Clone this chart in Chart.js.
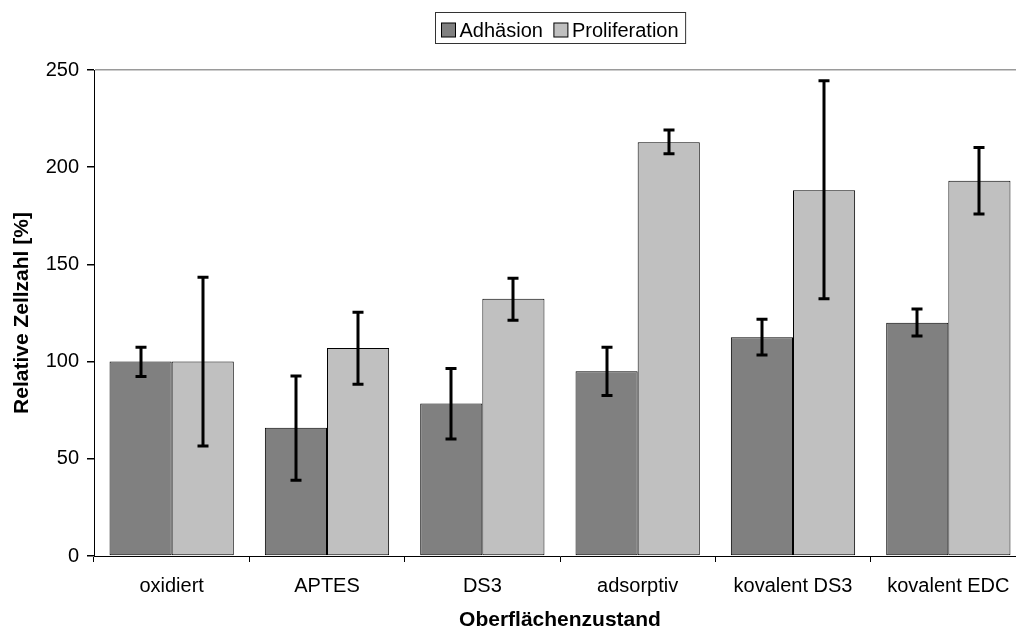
<!DOCTYPE html>
<html>
<head>
<meta charset="utf-8">
<script src="https://cdn.jsdelivr.net/npm/chart.js@4.4.0/dist/chart.umd.min.js"></script>
<style>
  html, body { margin: 0; padding: 0; background: #fff; overflow: hidden; width: 1016px; height: 635px; }
  canvas { display: block; }
</style>
</head>
<body>
<canvas id="c" width="1040" height="635"></canvas>
<script>
// Zellzahl relativ zur oxidierten Oberfläche (Mittelwert und Fehlergrenzen)
const categories = ['oxidiert', 'APTES', 'DS3', 'adsorptiv', 'kovalent DS3', 'kovalent EDC'];
const adhaesion      = [100, 66, 78.4, 95, 112.5, 120];
const adhaesionLow   = [92.3, 39, 60.2, 82.5, 103.4, 113.2];
const adhaesionHigh  = [107.4, 92.6, 96.4, 107.4, 121.8, 127.1];
const proliferation     = [100, 107, 132.3, 212.8, 188.2, 193];
const proliferationLow  = [56.6, 88.4, 121.3, 206.9, 132.3, 175.9];
const proliferationHigh = [143.4, 125.4, 142.9, 219.1, 244.5, 210.1];
const yTicks = [0, 50, 100, 150, 200, 250];

const FONT = "'Liberation Sans', Arial, sans-serif";

// Fehlerbalken mit Querstrichen
const errorBars = {
  id: 'errorBars',
  afterDatasetsDraw(chart) {
    const ctx = chart.ctx;
    const y = chart.scales.y;
    ctx.save();
    ctx.strokeStyle = '#000';
    ctx.lineWidth = 3;
    chart.data.datasets.forEach((ds, di) => {
      const meta = chart.getDatasetMeta(di);
      meta.data.forEach((bar, i) => {
        const x = Math.round(bar.x);
        const top = y.getPixelForValue(ds.errHigh[i]);
        const bot = y.getPixelForValue(ds.errLow[i]);
        ctx.beginPath();
        ctx.moveTo(x, top); ctx.lineTo(x, bot);
        ctx.moveTo(x - 5.5, top); ctx.lineTo(x + 5.5, top);
        ctx.moveTo(x - 5.5, bot); ctx.lineTo(x + 5.5, bot);
        ctx.stroke();
      });
    });
    ctx.restore();
  }
};

// Legende mit Rahmen, über der Zeichenfläche zentriert
const boxLegend = {
  id: 'boxLegend',
  afterDraw(chart) {
    const ctx = chart.ctx;
    const area = chart.chartArea;
    ctx.save();
    ctx.font = '20px ' + FONT;
    const padL = 6, padR = 7, mark = 15, gap = 3, itemGap = 11;
    const items = chart.data.datasets.map(d => ({ label: d.label, color: d.backgroundColor, w: ctx.measureText(d.label).width }));
    let width = padL + padR;
    items.forEach((it, k) => { width += mark + gap + it.w + (k < items.length - 1 ? itemGap : 0); });
    const cx = (area.left + area.right) / 2;
    const left = Math.round(cx - width / 2) + 0.5;
    const top = 12.5, height = 31;
    ctx.strokeStyle = '#333';
    ctx.lineWidth = 1;
    ctx.strokeRect(left, top, width, height);
    let x = left + padL;
    ctx.textBaseline = 'alphabetic';
    ctx.textAlign = 'left';
    items.forEach(it => {
      ctx.fillStyle = it.color;
      ctx.fillRect(x, 23, mark - 1, mark - 1);
      ctx.strokeStyle = '#000';
      ctx.strokeRect(x, 23, mark - 1, mark - 1);
      x += mark + gap;
      ctx.fillStyle = '#000';
      ctx.fillText(it.label, x, 37);
      x += it.w + itemGap;
    });
    ctx.restore();
  }
};

new Chart(document.getElementById('c'), {
  type: 'bar',
  data: {
    labels: categories,
    datasets: [
      { label: 'Adhäsion', data: adhaesion, errLow: adhaesionLow, errHigh: adhaesionHigh,
        backgroundColor: '#808080', borderColor: '#000', borderWidth: 1, borderSkipped: false },
      { label: 'Proliferation', data: proliferation, errLow: proliferationLow, errHigh: proliferationHigh,
        backgroundColor: '#c0c0c0', borderColor: '#000', borderWidth: 1, borderSkipped: false }
    ]
  },
  options: {
    responsive: false,
    animation: false,
    devicePixelRatio: 1,
    layout: { padding: { top: 70, right: 14, left: 0, bottom: 0 } },
    datasets: { bar: { categoryPercentage: 0.8, barPercentage: 1.0 } },
    plugins: {
      legend: { display: false },
      tooltip: { enabled: false }
    },
    scales: {
      x: {
        offset: true,
        grid: { offset: true, drawOnChartArea: false, color: '#000', tickLength: 6 },
        border: { color: '#000', width: 1 },
        ticks: { color: '#000', font: { family: FONT, size: 20 }, padding: 12, maxRotation: 0, autoSkip: false },
        title: { display: true, text: 'Oberflächenzustand', color: '#000',
                 font: { family: FONT, size: 21, weight: 'bold' }, padding: { top: 0, bottom: 2 } },
        afterFit(scale) { scale.height = 79; }
      },
      y: {
        min: 0, max: 250,
        afterBuildTicks(scale) { scale.ticks = yTicks.map(v => ({ value: v })); },
        grid: {
          color: c => (c.tick && c.tick.value === 250 ? '#9a9a9a' : 'rgba(0,0,0,0)'),
          tickColor: '#000', tickLength: 7, lineWidth: 1.5
        },
        border: { color: '#000', width: 1 },
        ticks: { color: '#000', font: { family: FONT, size: 20 }, padding: 8 },
        title: { display: true, text: 'Relative Zellzahl [%]', color: '#000',
                 font: { family: FONT, size: 21, weight: 'bold' }, padding: { top: 10, bottom: 0 } },
        afterFit(scale) { scale.width = 94; }
      }
    }
  },
  plugins: [errorBars, boxLegend]
});
</script>
</body>
</html>
